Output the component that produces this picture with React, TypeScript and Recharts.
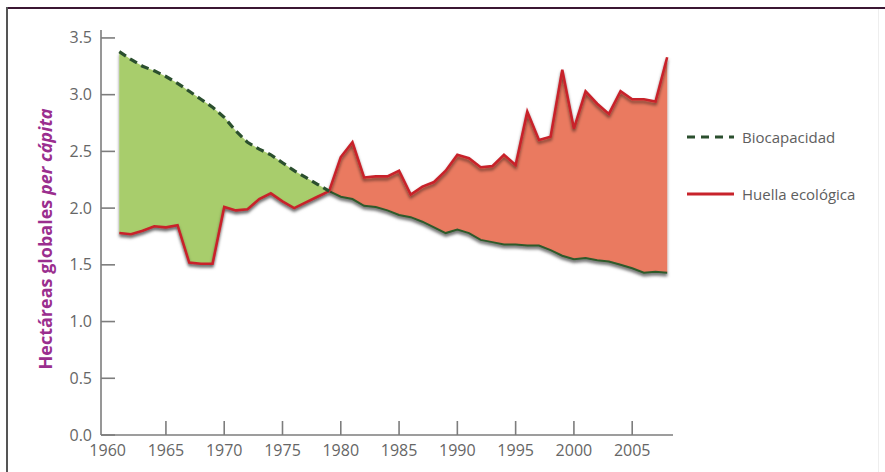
import React from 'react'
import { ComposedChart, Area, Line, XAxis, YAxis, Legend } from 'recharts'

// Hectáreas globales per cápita, 1961-2008
const years = [
  1961, 1962, 1963, 1964, 1965, 1966, 1967, 1968, 1969, 1970,
  1971, 1972, 1973, 1974, 1975, 1976, 1977, 1978, 1979, 1980,
  1981, 1982, 1983, 1984, 1985, 1986, 1987, 1988, 1989, 1990,
  1991, 1992, 1993, 1994, 1995, 1996, 1997, 1998, 1999, 2000,
  2001, 2002, 2003, 2004, 2005, 2006, 2007, 2008,
]

const biocapacidad = [
  3.38, 3.31, 3.25, 3.21, 3.16, 3.10, 3.03, 2.96, 2.89, 2.80,
  2.68, 2.58, 2.52, 2.47, 2.40, 2.33, 2.27, 2.21, 2.15, 2.10,
  2.08, 2.02, 2.01, 1.98, 1.94, 1.92, 1.88, 1.83, 1.78, 1.81,
  1.78, 1.72, 1.70, 1.68, 1.68, 1.67, 1.67, 1.63, 1.58, 1.55,
  1.56, 1.54, 1.53, 1.50, 1.47, 1.43, 1.44, 1.43,
]

const huella = [
  1.78, 1.77, 1.80, 1.84, 1.83, 1.85, 1.52, 1.51, 1.51, 2.01,
  1.98, 1.99, 2.08, 2.13, 2.06, 2.00, 2.05, 2.10, 2.15, 2.45,
  2.58, 2.27, 2.28, 2.28, 2.33, 2.12, 2.19, 2.23, 2.33, 2.47,
  2.44, 2.36, 2.37, 2.47, 2.38, 2.85, 2.60, 2.63, 3.22, 2.70,
  3.03, 2.92, 2.83, 3.03, 2.96, 2.96, 2.94, 3.33,
]

const crossYear = 1979
const xTicks = [1960, 1965, 1970, 1975, 1980, 1985, 1990, 1995, 2000, 2005]
const yTicks = [0, 0.5, 1, 1.5, 2, 2.5, 3, 3.5]
const legendItems = [
  { label: 'Biocapacidad', color: '#2b4f2e', dashed: true },
  { label: 'Huella ecológica', color: '#c8232b', dashed: false },
]

const data = years.map((year, i) => {
  const bio = biocapacidad[i]
  const fp = huella[i]
  return {
    year,
    huella: fp,
    bioDash: year <= crossYear ? bio : null,
    bioEdge: year >= crossYear ? bio : null,
    reserva: year <= crossYear ? [fp, bio] : null,
    deficit: year >= crossYear ? [bio, fp] : null,
  }
})

const font = '"Open Sans", "DejaVu Sans", sans-serif'
const axisColor = '#7d7d7d'
const textColor = '#666'

const XTick = ({ x, y, payload }: any) => (
  <g>
    {payload.value !== 1960 && (
      <line x1={x} y1={y} x2={x} y2={y - 14} stroke={axisColor} strokeWidth={1.6} />
    )}
    <text x={x} y={y + 21} textAnchor="middle" fill={textColor} fontSize={16} fontFamily={font}>
      {payload.value}
    </text>
  </g>
)

const YTick = ({ x, y, payload }: any) => (
  <g>
    <line x1={x} y1={y} x2={x + 14} y2={y} stroke={axisColor} strokeWidth={1.6} />
    <text x={x - 9} y={y + 5.5} textAnchor="end" fill={textColor} fontSize={16} fontFamily={font}>
      {payload.value.toFixed(1)}
    </text>
  </g>
)

const renderLegend = () => (
  <div style={{ fontFamily: font, fontSize: 15, color: '#5e5e5e' }}>
    {legendItems.map((item, i) => (
      <div key={item.label} style={{ display: 'flex', alignItems: 'center', height: 22, marginBottom: i === 0 ? 35 : 0 }}>
        <svg width={52} height={10} style={{ marginRight: 4 }}>
          <line
            x1={1}
            y1={5}
            x2={48}
            y2={5}
            stroke={item.color}
            strokeWidth={3}
            strokeDasharray={item.dashed ? '8 6' : undefined}
          />
        </svg>
        <span>{item.label}</span>
      </div>
    ))}
  </div>
)

export default function App() {
  return (
    <div style={{ position: 'absolute', left: 0, top: 0, width: 885, height: 472, background: '#fff' }}>
      {/* frame */}
      <div style={{ position: 'absolute', left: 6, top: 7, width: 879, height: 2, background: '#3b1733' }} />
      <div style={{ position: 'absolute', left: 6, top: 7, width: 2, height: 465, background: '#555' }} />
      <div style={{ position: 'absolute', left: 878, top: 9, width: 1, height: 463, background: '#eee' }} />

      <ComposedChart
        width={885}
        height={472}
        data={data}
        margin={{ top: 30, right: 212, bottom: 0, left: 0 }}
        style={{ position: 'absolute', left: 0, top: 0 }}
      >
        <defs>
          <filter id="shadow" x="-10%" y="-10%" width="130%" height="130%">
            <feDropShadow dx="0" dy="2.5" stdDeviation="1.8" floodColor="#000" floodOpacity="0.5" />
          </filter>
        </defs>
        <XAxis
          type="number"
          dataKey="year"
          domain={[1959.43, 2008.5]}
          ticks={xTicks}
          allowDataOverflow
          height={37}
          tickSize={0}
          tickMargin={0}
          tickLine={false}
          tick={<XTick />}
          axisLine={{ stroke: axisColor, strokeWidth: 1.6 }}
        />
        <YAxis
          type="number"
          domain={[0, 3.57]}
          ticks={yTicks}
          allowDataOverflow
          width={101}
          tickSize={0}
          tickMargin={0}
          tickLine={false}
          tick={<YTick />}
          axisLine={{ stroke: axisColor, strokeWidth: 1.6 }}
        />
        <Area
          dataKey="reserva"
          stroke="none"
          fill="#a8cd6c"
          fillOpacity={1}
          filter="url(#shadow)"
          type="linear"
          isAnimationActive={false}
        />
        <Area
          dataKey="deficit"
          stroke="none"
          fill="#ea7a60"
          fillOpacity={1}
          filter="url(#shadow)"
          type="linear"
          isAnimationActive={false}
        />
        <Line
          dataKey="bioEdge"
          stroke="#2f5a2c"
          strokeWidth={2}
          dot={false}
          type="linear"
          filter="url(#shadow)"
          isAnimationActive={false}
        />
        <Line
          dataKey="huella"
          stroke="#c8232b"
          strokeWidth={2.6}
          dot={false}
          type="linear"
          filter="url(#shadow)"
          isAnimationActive={false}
        />
        <Line
          dataKey="bioDash"
          stroke="#2b4f2e"
          strokeWidth={3.2}
          strokeDasharray="8 5"
          dot={false}
          type="linear"
          isAnimationActive={false}
        />
        <Legend
          layout="horizontal"
          verticalAlign="middle"
          align="center"
          content={renderLegend}
          wrapperStyle={{ top: 126, left: 686, right: 'auto', width: 199 }}
        />
      </ComposedChart>

      <svg width={80} height={472} style={{ position: 'absolute', left: 0, top: 0, pointerEvents: 'none' }}>
        <text
          transform="translate(52, 239) rotate(-90)"
          textAnchor="middle"
          fill="#9a2e8e"
          fontSize={18}
          fontWeight="bold"
          fontFamily={font}
        >
          Hectáreas globales <tspan fontStyle="italic">per cápita</tspan>
        </text>
      </svg>
    </div>
  )
}
